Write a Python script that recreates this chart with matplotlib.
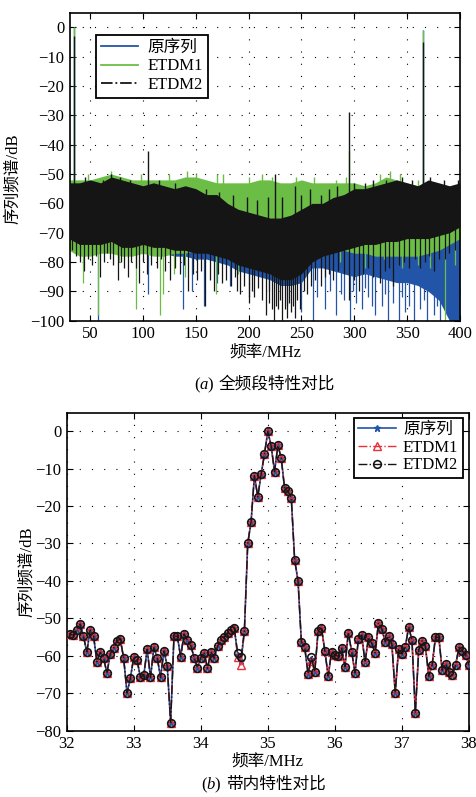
import numpy as np
import matplotlib
matplotlib.use('Agg')
import matplotlib.pyplot as plt

plt.rcParams['font.family'] = ['Liberation Serif', 'Noto Sans CJK SC']
plt.rcParams['mathtext.fontset'] = 'custom'
plt.rcParams['mathtext.it'] = 'Liberation Serif:italic'
plt.rcParams['mathtext.rm'] = 'Liberation Serif'

BLUE = '#2255a8'
GREEN = '#6cbd45'
BLACK = '#151515'
RED = '#e8303a'

# ---------------- (a) full band: envelopes read every 10 MHz ----------------
band_freq = np.arange(30, 401, 10)
blue_hi = [-55, -55, -54, -55, -53, -54, -55, -56, -55, -56, -57, -56, -57, -58, -58, -61, -63, -63, -64,
           -65, -64, -63, -62, -61, -61, -60, -59, -57, -57, -56, -56, -57, -58, -60, -62, -65, -68, -70]
blue_lo = [-74, -76, -76, -76, -75, -77, -77, -76, -77, -77, -78, -78, -79, -79, -80, -81, -83, -84, -85,
           -86, -88, -88, -87, -82, -82, -83, -84, -85, -84, -85, -86, -87, -87, -88, -90, -93, -100, -100]
green_hi = [-52, -52, -52, -51, -50, -51, -52, -52, -52, -52, -52, -51, -51, -52, -53, -53, -53, -53, -52,
            -52, -53, -53, -52, -53, -53, -53, -53, -53, -54, -53, -51, -52, -53, -54, -54, -55, -55, -56]
green_lo = [-76, -78, -78, -77, -77, -78, -78, -77, -78, -78, -77, -77, -76, -75, -74, -74, -73, -73, -73,
            -73, -73, -73, -73, -74, -74, -75, -76, -77, -77, -78, -78, -78, -78, -78, -77, -76, -74, -72]
black_hi = [-53, -53, -52, -53, -51, -52, -53, -54, -53, -54, -55, -54, -55, -57, -57, -60, -62, -63, -64,
            -65, -65, -64, -62, -60, -60, -58, -57, -55, -55, -54, -53, -52, -53, -54, -52, -53, -54, -53]
black_lo = [-72, -74, -74, -74, -73, -75, -75, -74, -75, -75, -76, -76, -77, -77, -78, -79, -81, -82, -83,
            -84, -86, -86, -84, -80, -78, -77, -76, -75, -74, -74, -73, -73, -72, -72, -72, -71, -70, -68]

# single spikes (frequency MHz, level dB)
blue_up_f = [35, 365]
blue_up_v = [0, -1]
blue_dn_f = [57, 105, 138, 146, 158, 170, 182, 200, 219, 236, 250, 261, 265, 272, 277, 283, 287, 290, 296,
             299, 302, 307, 310, 313, 317, 320, 326, 329, 332, 337, 342, 345, 348, 352, 356, 362, 366,
             369, 375, 378, 381]
blue_dn_v = [-100, -91, -96, -90, -95, -87, -88, -92, -90, -95, -97, -100, -92, -96, -90, -98, -91, -93,
             -100, -90, -94, -96, -89, -92, -95, -98, -95, -91, -100, -94, -100, -92, -97, -95, -100, -96,
             -93, -100, -98, -95, -100]

green_up_f = [35, 295, 365, 48, 70, 98, 125, 142, 150, 170, 176, 200, 213, 222, 245, 262, 283, 292, 324,
              334, 343, 360]
green_up_v = [0, -42, -1, -50, -49, -50, -50, -49, -50, -50, -50, -51, -50, -51, -51, -51, -52, -51, -50,
              -49, -50, -52]
green_dn_f = [43, 57, 77, 93, 116, 119, 129, 140, 169, 190, 286, 310, 328, 345, 360, 372, 386, 395]
green_dn_v = [-87, -98, -80, -96, -98, -91, -84, -85, -91, -84, -80, -82, -79, -82, -81, -82, -100, -81]

black_up_f = [35, 105, 225, 244, 295, 365, 45, 62, 70, 78, 88, 115, 130, 160, 172, 185, 198, 208, 218,
              232, 250, 258, 268, 276, 284, 300, 310, 318, 330, 345, 355, 372, 385, 398]
black_up_v = [-3, -42, -50, -54, -29, -5, -51, -52, -50, -51, -52, -52, -53, -55, -56, -57, -58, -59, -58,
              -58, -57, -55, -57, -55, -54, -53, -53, -52, -52, -51, -52, -51, -52, -52]
black_dn_f = [33, 37, 40, 44, 48, 52, 56, 59, 63, 66, 69, 72, 76, 79, 82, 86, 89, 93, 96, 100, 104, 108,
              113, 117, 121, 126, 130, 135, 139, 143, 147, 151, 155, 159, 163, 167, 171, 175, 179, 183,
              187, 189, 192, 196, 200, 203, 205, 209, 213, 216, 219, 222, 224, 226, 228, 230, 232, 234,
              236, 238, 240, 242, 244, 246, 249, 252, 255, 259, 263, 268, 272, 276, 280, 285, 290, 295,
              300, 304, 308, 313, 318, 324, 329, 333, 337, 342, 347, 352, 357, 362, 367, 371, 375, 380,
              386, 390, 395]
black_dn_v = [-76, -78, -80, -83, -79, -81, -78, -85, -80, -77, -79, -81, -86, -80, -82, -85, -80, -82,
              -87, -80, -84, -81, -82, -79, -83, -86, -82, -84, -81, -90, -84, -86, -83, -95, -86, -90,
              -84, -87, -86, -88, -85, -90, -91, -88, -94, -90, -92, -89, -93, -98, -94, -96, -100, -95,
              -96, -93, -100, -96, -99, -94, -97, -95, -99, -93, -96, -90, -91, -88, -86, -88, -85, -84,
              -86, -83, -84, -93, -86, -90, -84, -82, -85, -87, -83, -82, -88, -81, -80, -82, -79, -82,
              -80, -78, -83, -79, -79, -77, -76]

# ---------------- (b) in-band: 32.05 ... 38.00 MHz, 0.05 MHz step ----------------
freq_b = np.round(np.arange(32.05, 38.0001, 0.05), 2)
orig = [-54.3, -54.5, -53.0, -51.5, -54.8, -59.0, -53.2, -54.6, -61.6, -59.1,
        -60.5, -64.7, -59.5, -58.0, -56.0, -55.6, -60.7, -70.0, -66.0, -60.4,
        -61.2, -65.8, -65.2, -58.3, -65.8, -57.8, -60.5, -65.8, -58.7, -62.8,
        -77.9, -54.8, -54.8, -60.3, -54.2, -55.9, -57.2, -60.5, -63.2, -60.5,
        -59.2, -63.4, -59.0, -60.7, -57.5, -55.9, -55.0, -53.9, -53.2, -52.7,
        -59.8, -61.5, -53.5, -30.0, -24.2, -11.9, -17.5, -11.5, -6.1, 0.0,
        -4.0, -10.8, -3.8, -7.2, -15.3, -16.0, -17.9, -34.5, -39.9, -56.3,
        -57.8, -64.8, -61.0, -64.3, -53.4, -52.6, -58.7, -65.4, -59.0, -59.7,
        -60.2, -58.0, -62.9, -53.8, -58.9, -64.6, -55.6, -54.5, -61.8, -55.1,
        -56.7, -59.2, -51.2, -52.8, -56.3, -54.7, -57.0, -69.9, -58.1, -59.6,
        -57.7, -52.3, -55.9, -75.3, -58.5, -56.0, -57.5, -65.5, -62.5, -55.1,
        -55.1, -63.9, -62.2, -64.3, -65.2, -62.5, -57.8, -58.7, -59.7, -62.6]
# the two ETDM curves equal the original except at a few bins
etdm1_diff = {50: -60.3, 51: -62.5, 72: -61.5}
etdm2_diff = {50: -59.2, 51: -60.3, 72: -60.4}

etdm1 = list(orig)
for k, v in etdm1_diff.items():
    etdm1[k] = v
etdm2 = list(orig)
for k, v in etdm2_diff.items():
    etdm2[k] = v


def style_axes(ax):
    ax.set_axisbelow(True)
    ax.grid(True, linestyle=(0, (1, 10)), color='k', linewidth=0.8)
    ax.tick_params(direction='in', top=True, right=True, length=4, width=0.8, labelsize=12, pad=4)
    for s in ax.spines.values():
        s.set_linewidth(1.2)


fig = plt.figure(figsize=(4.77, 7.97), dpi=100)

# ---- (a)
ax1 = fig.add_axes([0.1468, 0.5976, 0.8176, 0.3865])
for hi, lo, upf, upv, dnf, dnv, col, z, ls, lab in [
        (blue_hi, blue_lo, blue_up_f, blue_up_v, blue_dn_f, blue_dn_v, BLUE, 1, '-', '原序列'),
        (green_hi, green_lo, green_up_f, green_up_v, green_dn_f, green_dn_v, GREEN, 2, '-', 'ETDM1'),
        (black_hi, black_lo, black_up_f, black_up_v, black_dn_f, black_dn_v, BLACK, 3, '-.', 'ETDM2')]:
    ax1.fill_between(band_freq, lo, hi, color=col, linewidth=0, zorder=z)
    ax1.vlines(upf, -68, upv, color=col, linewidth=1.0, zorder=z)
    ax1.vlines(dnf, dnv, -66, color=col, linewidth=0.9, zorder=z)
    ax1.plot([], [], color=col, linestyle=ls, linewidth=1.3, label=lab)

ax1.set_xlim(31, 400)
ax1.set_ylim(-100, 5)
ax1.set_xticks(np.arange(50, 401, 50))
ax1.set_yticks(np.arange(-100, 1, 10))
style_axes(ax1)
ax1.set_xlabel('频率/MHz', fontsize=12, labelpad=2)
ax1.set_ylabel('序列频谱/dB', fontsize=12, labelpad=0)
ax1.yaxis.set_label_coords(-0.125, 0.46)
leg1 = ax1.legend(loc='upper left', bbox_to_anchor=(0.067, 0.928), borderaxespad=0, fontsize=12,
                  handlelength=2.2, handletextpad=0.6, labelspacing=0.15, borderpad=0.3,
                  fancybox=False, framealpha=1)
leg1.get_frame().set_edgecolor('k')
leg1.get_frame().set_linewidth(1.3)

# ---- (b)
ax2 = fig.add_axes([0.1398, 0.0834, 0.8434, 0.399])
ax2.plot(freq_b, orig, color=BLUE, linestyle='-', linewidth=1.2, marker='*', markersize=4.5,
         label='原序列', zorder=3)
ax2.plot(freq_b, etdm1, color=RED, linestyle='-.', linewidth=1.0, marker='^', markersize=5.5,
         markerfacecolor='none', markeredgecolor=RED, markeredgewidth=1.0, label='ETDM1', zorder=4)
ax2.plot(freq_b, etdm2, color=BLACK, linestyle='-.', linewidth=1.0, marker='o', markersize=5.5,
         markerfacecolor='none', markeredgecolor=BLACK, markeredgewidth=1.2, label='ETDM2', zorder=5)
ax2.set_xlim(32, 38)
ax2.set_ylim(-80, 5)
ax2.set_xticks(np.arange(32, 39, 1))
ax2.set_yticks(np.arange(-80, 1, 10))
style_axes(ax2)
ax2.set_xlabel('频率/MHz', fontsize=12, labelpad=1)
ax2.set_ylabel('序列频谱/dB', fontsize=12, labelpad=0)
leg2 = ax2.legend(loc='upper right', bbox_to_anchor=(0.984, 0.983), borderaxespad=0, fontsize=12,
                  handlelength=2.3, handletextpad=0.4, labelspacing=0.1, borderpad=0.25,
                  fancybox=False, framealpha=1)
leg2.get_frame().set_edgecolor('k')
leg2.get_frame().set_linewidth(1.3)

# captions: italic letter via mathtext, Chinese as a separate text so the CJK font is used
fig.text(215 / 477, 1 - 385 / 797, r'($a$)', ha='right', va='center', fontsize=12)
fig.text(219 / 477, 1 - 385 / 797, '全频段特性对比', ha='left', va='center', fontsize=12)
fig.text(222 / 477, 1 - 785 / 797, r'($b$)', ha='right', va='center', fontsize=12)
fig.text(226 / 477, 1 - 785 / 797, '带内特性对比', ha='left', va='center', fontsize=12)

fig.savefig('out.png', dpi=100)
